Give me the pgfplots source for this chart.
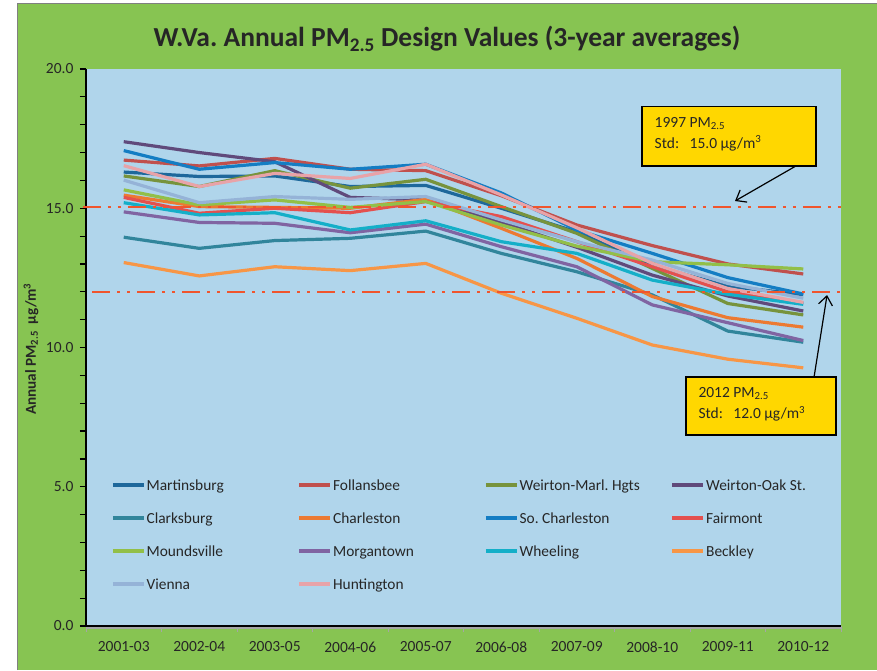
\documentclass[border=0pt]{standalone}
\usepackage{pgfplots}
\pgfplotsset{compat=1.18}
\usepackage{fontspec}
\setmainfont{Carlito}
\usetikzlibrary{arrows.meta}
\frenchspacing
\definecolor{bggreen}{RGB}{135,196,82}
\definecolor{plotblue}{RGB}{176,213,235}
\definecolor{refred}{RGB}{240,85,45}
\definecolor{annyellow}{RGB}{255,215,0}
\definecolor{cMart}{RGB}{30,104,155}
\definecolor{cFoll}{RGB}{192,80,77}
\definecolor{cWMarl}{RGB}{119,147,60}
\definecolor{cWOak}{RGB}{96,74,123}
\definecolor{cClark}{RGB}{49,133,155}
\definecolor{cChar}{RGB}{236,122,50}
\definecolor{cSoCh}{RGB}{20,125,195}
\definecolor{cFair}{RGB}{228,80,78}
\definecolor{cMound}{RGB}{146,191,72}
\definecolor{cMorg}{RGB}{128,100,162}
\definecolor{cWheel}{RGB}{20,175,200}
\definecolor{cBeck}{RGB}{247,150,70}
\definecolor{cVien}{RGB}{149,179,215}
\definecolor{cHunt}{RGB}{232,163,168}
\newcommand{\LE}[1]{\makebox[150pt][l]{\strut #1}}
\begin{document}
\begin{tikzpicture}
\useasboundingbox (0pt,0pt) rectangle (877pt,670pt);
\fill[white] (0pt,0pt) rectangle (877pt,670pt);
\fill[bggreen] (17pt,0pt) rectangle (877pt,666pt);
\draw[gray, line width=1pt] (17pt,0pt) -- (17pt,666pt) -- (877pt,666pt);
\node[anchor=base, font=\fontsize{27.5}{33}\selectfont\bfseries, text=black!85] at (447pt,623pt) {W.Va. Annual PM\textsubscript{2.5} Design Values (3-year averages)};
\node[rotate=90, font=\fontsize{15.2}{18}\selectfont\bfseries, text=black!85] at (31pt,321pt) {Annual PM\textsubscript{2.5}\ \ µg/m\textsuperscript{3}};
\begin{axis}[
  at={(86pt,44pt)}, anchor=south west,
  scale only axis, width=755pt, height=557pt,
  xmin=-0.5, xmax=9.5, ymin=0, ymax=20,
  axis background/.style={fill=plotblue},
  axis lines*=left,
  axis line style={black, line width=1.5pt},
  clip=false,
  xtick={0,1,...,9},
  xticklabels={2001-03,2002-04,2003-05,2004-06,2005-07,2006-08,2007-09,2008-10,2009-11,2010-12},
  major x tick style={draw=none},
  minor xtick={-0.5,0.5,...,9.5},
  minor x tick style={gray!70, line width=1pt},
  ytick={0,5,...,20},
  minor ytick={1,2,3,4,6,7,8,9,11,12,13,14,16,17,18,19},
  y tick style={black, line width=1.2pt},
  tick align=outside,
  major tick length=6pt, minor tick length=6pt,
  ticklabel style={font=\fontsize{15.5}{18.6}\selectfont, text=black!85},
  xticklabel style={yshift=-6pt},
  yticklabel style={xshift=-3pt},
  /pgf/number format/assume math mode=true,
  yticklabel style={/pgf/number format/.cd, fixed, fixed zerofill, precision=1},
  legend columns=4,
  legend style={at={(0.033,0.2684)}, anchor=north west, draw=none, fill=none,
    inner sep=0pt, font=\fontsize{15.4}{18.5}\selectfont, text=black!85,
    nodes={inner sep=1pt}, column sep=0pt, row sep=16.5pt},
  legend cell align=left,
  legend image code/.code={\draw[#1, line width=3.5pt] (0pt,0pt) -- (31pt,0pt);},
  every axis plot/.append style={line width=3.2pt, line join=round, no markers},
]
\addplot[cMart] coordinates {(0,16.30) (1,16.14) (2,16.16) (3,15.78) (4,15.82) (5,15.00) (6,14.15) (7,12.95) (8,12.20) (9,11.90)};
\addlegendentry{\LE{Martinsburg}}
\addplot[cFoll] coordinates {(0,16.73) (1,16.52) (2,16.79) (3,16.40) (4,16.35) (5,15.45) (6,14.40) (7,13.66) (8,13.00) (9,12.64)};
\addlegendentry{\LE{Follansbee}}
\addplot[cWMarl] coordinates {(0,16.16) (1,15.78) (2,16.35) (3,15.72) (4,16.04) (5,15.06) (6,14.10) (7,12.84) (8,11.58) (9,11.17)};
\addlegendentry{\LE{Weirton-Marl. Hgts}}
\addplot[cWOak] coordinates {(0,17.39) (1,17.00) (2,16.67) (3,15.39) (4,15.30) (5,14.50) (6,13.60) (7,12.60) (8,11.85) (9,11.31)};
\addlegendentry{\LE{Weirton-Oak St.}}
\addplot[cClark] coordinates {(0,13.96) (1,13.56) (2,13.84) (3,13.92) (4,14.18) (5,13.38) (6,12.72) (7,11.89) (8,10.59) (9,10.19)};
\addlegendentry{\LE{Clarksburg}}
\addplot[cChar] coordinates {(0,15.47) (1,15.06) (2,15.03) (3,15.00) (4,15.32) (5,14.28) (6,13.20) (7,11.83) (8,11.07) (9,10.73)};
\addlegendentry{\LE{Charleston}}
\addplot[cSoCh] coordinates {(0,17.07) (1,16.40) (2,16.64) (3,16.40) (4,16.58) (5,15.55) (6,14.22) (7,13.38) (8,12.51) (9,11.92)};
\addlegendentry{\LE{So. Charleston}}
\addplot[cFair] coordinates {(0,15.39) (1,14.82) (2,15.00) (3,14.84) (4,15.24) (5,14.70) (6,13.80) (7,12.90) (8,12.00) (9,11.60)};
\addlegendentry{\LE{Fairmont}}
\addplot[cMound] coordinates {(0,15.66) (1,15.12) (2,15.30) (3,15.03) (4,15.24) (5,14.40) (6,13.64) (7,13.08) (8,12.97) (9,12.82)};
\addlegendentry{\LE{Moundsville}}
\addplot[cMorg] coordinates {(0,14.87) (1,14.49) (2,14.46) (3,14.12) (4,14.43) (5,13.62) (6,12.90) (7,11.53) (8,10.89) (9,10.25)};
\addlegendentry{\LE{Morgantown}}
\addplot[cWheel] coordinates {(0,15.20) (1,14.76) (2,14.84) (3,14.22) (4,14.55) (5,13.80) (6,13.38) (7,12.42) (8,11.91) (9,11.55)};
\addlegendentry{\LE{Wheeling}}
\addplot[cBeck] coordinates {(0,13.05) (1,12.57) (2,12.90) (3,12.76) (4,13.02) (5,11.95) (6,11.05) (7,10.09) (8,9.58) (9,9.27)};
\addlegendentry{\LE{Beckley}}
\addplot[cVien] coordinates {(0,16.01) (1,15.20) (2,15.42) (3,15.32) (4,15.42) (5,14.58) (6,13.80) (7,13.14) (8,12.30) (9,11.77)};
\addlegendentry{\LE{Vienna}}
\addplot[cHunt] coordinates {(0,16.53) (1,15.78) (2,16.25) (3,16.07) (4,16.58) (5,15.48) (6,14.30) (7,13.02) (8,12.12) (9,11.62)};
\addlegendentry{\LE{Huntington}}
% reference standards
\addplot[refred, line width=2.6pt, line join=miter, dash pattern=on 18pt off 7pt on 3pt off 7pt on 3pt off 7pt, forget plot] coordinates {(-0.54,15.05) (9.57,15.05)};
\addplot[refred, line width=2.6pt, line join=miter, dash pattern=on 18pt off 7pt on 3pt off 7pt on 3pt off 7pt, forget plot] coordinates {(-0.42,12.0) (9.57,12.0)};
% bottom axis shadow
\draw[gray!70, line width=2pt] ([yshift=-2pt]axis cs:-0.5,0) -- ([yshift=-2pt]axis cs:9.5,0);
% annotations
\draw[black, line width=1.2pt, fill=annyellow] (axis cs:6.864,18.64) rectangle (axis cs:9.169,16.52);
\node[anchor=north west, align=left, font=\fontsize{15.5}{21}\selectfont, text=black!85, inner sep=0pt] at (axis cs:7.03,18.28) {1997 PM\textsubscript{2.5}\\Std:\ \ \ 15.0 µg/m\textsuperscript{3}};
\draw[black, line width=1.2pt, -{Straight Barb[length=9pt,width=14pt]}] (axis cs:8.904,16.52) -- (axis cs:8.096,15.26);
\draw[black, line width=1.2pt, fill=annyellow] (axis cs:7.447,8.94) rectangle (axis cs:9.434,6.86);
\node[anchor=north west, align=left, font=\fontsize{15.5}{21}\selectfont, text=black!85, inner sep=0pt] at (axis cs:7.61,8.58) {2012 PM\textsubscript{2.5}\\Std:\ \ \ 12.0 µg/m\textsuperscript{3}};
\draw[black, line width=1.2pt, -{Straight Barb[length=9pt,width=14pt]}] (axis cs:9.143,8.94) -- (axis cs:9.315,11.885);
\end{axis}
\end{tikzpicture}
\end{document}
